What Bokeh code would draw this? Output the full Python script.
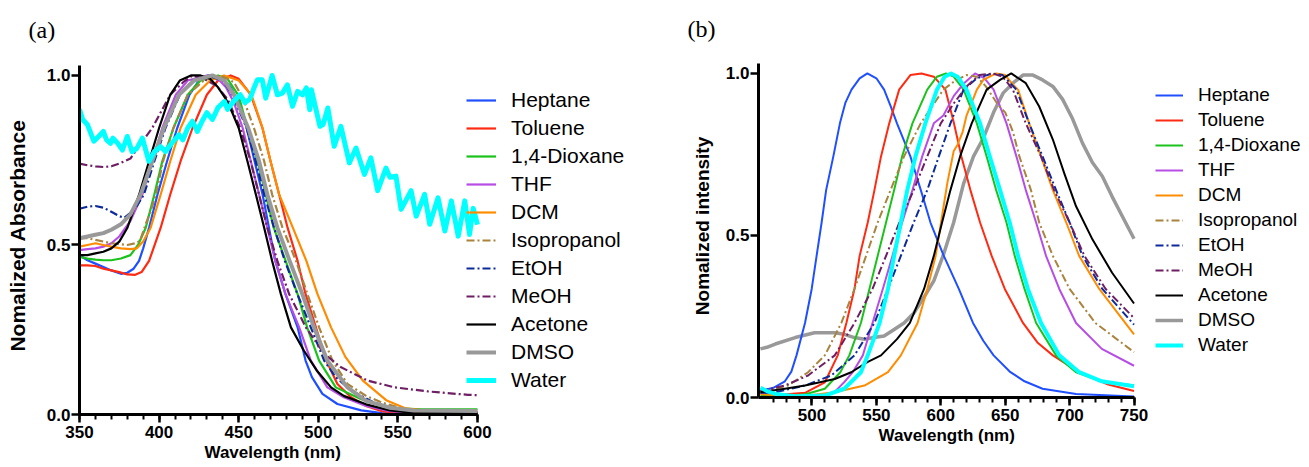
from bokeh.plotting import figure
from bokeh.models import Range1d, FixedTicker, Legend, LegendItem, PrintfTickFormatter, Title
from bokeh.layouts import row
from bokeh.embed import file_html
from bokeh.resources import INLINE

# ---------------- Panel (a): normalized absorbance ----------------
HEPTANE_ABS_WL = [350, 355, 360, 365, 370, 376, 380, 384, 387.4, 390, 393.7, 399, 405, 411.4, 419, 425, 432, 440, 445, 450, 455, 460, 465, 469, 473, 479.4, 487, 492, 496, 502.6, 512, 527, 540, 560, 600]
HEPTANE_ABS = [0.47, 0.455, 0.445, 0.435, 0.425, 0.415, 0.418, 0.43, 0.453, 0.49, 0.551, 0.649, 0.747, 0.845, 0.943, 0.985, 1.0, 0.99, 0.965, 0.92, 0.845, 0.747, 0.649, 0.551, 0.453, 0.355, 0.257, 0.159, 0.11, 0.061, 0.031, 0.012, 0.004, 0.001, 0.0]

TOLUENE_ABS_WL = [350, 355, 360, 365, 370, 375, 380, 385, 389, 393.7, 401, 407, 413.5, 421, 430, 437, 445, 450, 457.6, 464.9, 470, 475.4, 480.7, 487, 492, 498.5, 505, 512, 520.5, 530, 540, 550, 600]
TOLUENE_ABS = [0.44, 0.44, 0.438, 0.43, 0.425, 0.42, 0.413, 0.412, 0.42, 0.453, 0.551, 0.649, 0.747, 0.845, 0.943, 0.985, 1.0, 0.99, 0.943, 0.845, 0.747, 0.649, 0.551, 0.453, 0.355, 0.257, 0.159, 0.09, 0.051, 0.025, 0.01, 0.005, 0.003]

DIOXANE_ABS_WL = [350, 355, 360, 365, 370, 376, 382, 387, 391.6, 397, 402, 409, 418, 426, 437, 443, 450, 455.5, 461.8, 467, 472, 479.5, 487, 493, 500.5, 511, 527, 540, 550, 565, 600]
DIOXANE_ABS = [0.465, 0.46, 0.457, 0.455, 0.455, 0.46, 0.47, 0.502, 0.551, 0.649, 0.747, 0.845, 0.943, 0.985, 1.0, 0.99, 0.94, 0.845, 0.747, 0.649, 0.551, 0.453, 0.355, 0.257, 0.159, 0.08, 0.045, 0.025, 0.018, 0.015, 0.015]

THF_ABS_WL = [350, 355, 360, 365, 370, 375, 382, 389.5, 395.7, 402, 410.5, 418, 430, 438, 442, 447, 452.5, 457.6, 462.8, 468, 473, 479.4, 488, 495.3, 505.7, 516, 530, 545, 560, 600]
THF_ABS = [0.485, 0.488, 0.49, 0.495, 0.505, 0.525, 0.571, 0.649, 0.747, 0.845, 0.943, 0.985, 1.0, 0.985, 0.965, 0.92, 0.845, 0.747, 0.649, 0.551, 0.453, 0.355, 0.257, 0.159, 0.08, 0.051, 0.025, 0.01, 0.005, 0.004]

DCM_ABS_WL = [350, 355, 360, 365, 370, 376, 382, 386, 390, 394.7, 401, 407, 413.5, 423, 432, 440.8, 450, 458, 465, 470, 475.4, 484, 492.5, 499.5, 508, 517, 528, 543, 555, 570, 600]
DCM_ABS = [0.495, 0.5, 0.505, 0.5, 0.495, 0.49, 0.488, 0.49, 0.51, 0.551, 0.649, 0.747, 0.845, 0.943, 0.985, 1.0, 0.985, 0.943, 0.845, 0.747, 0.649, 0.551, 0.453, 0.355, 0.257, 0.17, 0.1, 0.041, 0.018, 0.01, 0.008]

ISOPROPANOL_ABS_WL = [350, 355, 360, 365, 370, 376, 380, 385, 388, 391.5, 394.7, 398, 402.5, 409, 418, 428, 438.7, 447, 453, 459.6, 466, 471, 477.5, 486, 493.2, 500.5, 508.9, 518.3, 530, 540, 555, 575, 600]
ISOPROPANOL_ABS = [0.52, 0.52, 0.515, 0.51, 0.505, 0.502, 0.5, 0.505, 0.512, 0.56, 0.6, 0.649, 0.747, 0.845, 0.943, 0.985, 1.0, 0.98, 0.93, 0.845, 0.747, 0.649, 0.551, 0.453, 0.355, 0.257, 0.159, 0.09, 0.055, 0.035, 0.015, 0.008, 0.006]

ETOH_ABS_WL = [350, 355, 360, 365, 370, 375, 378, 382, 386, 390.5, 397, 404, 413, 421, 431, 440, 446, 455, 460.7, 466, 472.2, 479, 486.9, 495.3, 503.7, 511, 520.5, 535, 550, 570, 600]
ETOH_ABS = [0.607, 0.613, 0.615, 0.61, 0.598, 0.585, 0.58, 0.595, 0.615, 0.649, 0.747, 0.845, 0.943, 0.985, 1.0, 0.985, 0.943, 0.845, 0.747, 0.649, 0.551, 0.453, 0.355, 0.257, 0.159, 0.11, 0.071, 0.035, 0.015, 0.008, 0.006]

MEOH_ABS_WL = [350, 355, 360, 365, 370, 376, 382, 388, 395.7, 407, 415.6, 421, 428, 436, 443, 451, 457.5, 468, 474.3, 481.7, 492.2, 503.7, 514, 531, 548, 569, 594, 600]
MEOH_ABS = [0.74, 0.735, 0.732, 0.73, 0.732, 0.742, 0.755, 0.796, 0.845, 0.943, 0.982, 1.0, 0.99, 0.97, 0.93, 0.845, 0.747, 0.551, 0.453, 0.355, 0.257, 0.179, 0.14, 0.1, 0.08, 0.068, 0.058, 0.057]

ACETONE_ABS_WL = [350, 355, 360, 365, 370, 375, 380, 387.5, 393.7, 400, 407, 413, 420, 426, 432, 437, 442, 446, 450, 455.5, 460.8, 466, 471, 476.5, 482.8, 491, 499, 508, 516, 530, 545, 560, 600]
ACETONE_ABS = [0.47, 0.47, 0.475, 0.48, 0.49, 0.51, 0.55, 0.649, 0.747, 0.845, 0.943, 0.985, 1.0, 1.0, 0.99, 0.965, 0.93, 0.89, 0.845, 0.747, 0.649, 0.551, 0.453, 0.355, 0.257, 0.188, 0.13, 0.08, 0.055, 0.03, 0.012, 0.005, 0.003]

DMSO_ABS_WL = [350, 355, 360, 365, 370, 376, 382, 388.4, 395.7, 403, 412.5, 422, 433.5, 441, 447, 456, 462.8, 468, 474.3, 482, 490, 497.3, 505.7, 518.3, 530, 545, 560, 600]
DMSO_ABS = [0.52, 0.525, 0.53, 0.535, 0.545, 0.561, 0.59, 0.649, 0.747, 0.845, 0.943, 0.985, 1.0, 0.985, 0.943, 0.845, 0.747, 0.649, 0.551, 0.453, 0.355, 0.257, 0.159, 0.08, 0.04, 0.02, 0.012, 0.01]

WATER_ABS_WL = [350, 352, 355, 359, 362, 365, 367, 369.5, 371, 374, 377, 380, 383, 386, 389.5, 393.6, 397, 401, 404, 408, 412.5, 415, 418, 421, 424, 427, 430, 433.5, 437, 441, 443, 447, 451, 454, 457, 459.6, 461.7, 464.8, 467, 471, 474.3, 477.4, 480.6, 483.8, 487, 490, 492.5, 494.6, 495.7, 501, 503, 506, 510, 514.2, 519.5, 523.7, 529, 533, 537.3, 542.5, 545, 548.8, 552, 558.3, 561.5, 566.8, 570, 575.2, 579.5, 583.6, 587.9, 592, 595, 597.3, 600]
WATER_ABS = [0.9, 0.87, 0.855, 0.806, 0.82, 0.835, 0.81, 0.8, 0.815, 0.8, 0.78, 0.82, 0.775, 0.785, 0.815, 0.747, 0.775, 0.79, 0.776, 0.8, 0.825, 0.81, 0.845, 0.865, 0.835, 0.865, 0.89, 0.87, 0.905, 0.923, 0.9, 0.925, 0.943, 0.92, 0.93, 0.963, 0.987, 0.987, 0.933, 1.0, 0.943, 0.948, 0.972, 0.909, 0.953, 0.943, 0.963, 0.899, 0.958, 0.85, 0.855, 0.904, 0.791, 0.85, 0.742, 0.786, 0.708, 0.757, 0.66, 0.727, 0.7, 0.703, 0.605, 0.66, 0.585, 0.649, 0.561, 0.639, 0.541, 0.63, 0.526, 0.63, 0.531, 0.608, 0.56]

# ---------------- Panel (b): normalized emission ----------------
HEPTANE_EM_WL = [460, 470, 479, 484, 488, 494.6, 499.8, 503.6, 507.5, 511, 516.6, 521.7, 526, 530.7, 537, 543, 550, 556, 561, 566, 576.4, 584.5, 592, 602, 614, 625, 633, 641, 653.5, 665, 679, 705, 750]
HEPTANE_EM = [0.02, 0.03, 0.05, 0.08, 0.13, 0.23, 0.335, 0.437, 0.54, 0.64, 0.744, 0.846, 0.91, 0.95, 0.985, 1.0, 0.985, 0.95, 0.9, 0.846, 0.744, 0.64, 0.54, 0.44, 0.335, 0.23, 0.175, 0.13, 0.08, 0.05, 0.027, 0.011, 0.003]

TOLUENE_EM_WL = [460, 480, 495, 510, 520, 526.7, 533, 537, 543.3, 548.5, 553.6, 560, 567.7, 576.4, 585, 594.6, 603.6, 610, 616, 623, 630.5, 639.5, 649.7, 663.8, 675, 687, 707.4, 730, 750]
TOLUENE_EM = [0.012, 0.01, 0.015, 0.047, 0.13, 0.23, 0.335, 0.437, 0.54, 0.64, 0.744, 0.846, 0.95, 0.995, 1.0, 0.99, 0.95, 0.85, 0.744, 0.64, 0.54, 0.437, 0.335, 0.23, 0.17, 0.13, 0.078, 0.04, 0.02]

DIOXANE_EM_WL = [460, 480, 495, 510, 522, 529, 538, 544.6, 551, 557.5, 563.8, 570, 578, 589.5, 597, 604, 610, 617.7, 628, 635.6, 643, 651, 657.4, 665, 674, 689.5, 705, 725, 750]
DIOXANE_EM = [0.005, 0.005, 0.01, 0.027, 0.078, 0.13, 0.23, 0.335, 0.437, 0.54, 0.64, 0.744, 0.846, 0.95, 0.99, 1.0, 0.99, 0.95, 0.846, 0.744, 0.64, 0.54, 0.437, 0.335, 0.23, 0.13, 0.078, 0.05, 0.037]

THF_EM_WL = [460, 480, 500, 517, 525, 532, 539.5, 547, 555, 562.5, 570, 578, 585.6, 594.6, 602, 610, 618, 626.6, 634, 641, 651, 658.7, 666, 674, 681.7, 692, 705, 725, 750]
THF_EM = [0.015, 0.005, 0.005, 0.015, 0.047, 0.08, 0.13, 0.23, 0.335, 0.437, 0.54, 0.64, 0.744, 0.846, 0.87, 0.93, 0.97, 1.0, 0.985, 0.95, 0.846, 0.744, 0.64, 0.54, 0.437, 0.335, 0.23, 0.15, 0.098]

DCM_EM_WL = [460, 480, 500, 517.7, 540.8, 559, 569, 582, 589.5, 596, 601, 605, 610, 613, 617, 620, 628, 633, 643, 650, 655, 660, 668.6, 677.8, 687, 697.4, 707.4, 723, 750]
DCM_EM = [0.01, 0.005, 0.008, 0.016, 0.037, 0.078, 0.13, 0.23, 0.335, 0.437, 0.56, 0.66, 0.76, 0.78, 0.82, 0.87, 0.95, 0.98, 1.0, 0.995, 0.97, 0.95, 0.846, 0.744, 0.64, 0.54, 0.437, 0.335, 0.195]

ISOPROPANOL_EM_WL = [460, 470, 481.5, 497, 510, 522.8, 533, 542, 551, 561, 571.5, 584.4, 602, 612, 620, 628, 635, 645, 650, 656, 661, 670, 676.4, 687, 700, 720, 750]
ISOPROPANOL_EM = [0.02, 0.025, 0.037, 0.078, 0.13, 0.23, 0.335, 0.437, 0.54, 0.64, 0.744, 0.846, 0.95, 0.98, 0.995, 0.99, 0.96, 0.9, 0.88, 0.82, 0.744, 0.64, 0.54, 0.437, 0.335, 0.23, 0.14]

ETOH_EM_WL = [460, 470, 494.6, 515, 533, 548.5, 559, 569, 579, 589.5, 598.5, 607.5, 617.7, 628, 640, 648, 658.7, 668.6, 679, 689.5, 700, 710, 725.4, 750]
ETOH_EM = [0.015, 0.015, 0.037, 0.068, 0.13, 0.23, 0.335, 0.437, 0.54, 0.64, 0.744, 0.846, 0.95, 0.985, 1.0, 0.995, 0.95, 0.846, 0.744, 0.64, 0.54, 0.437, 0.335, 0.225]

MEOH_EM_WL = [460, 479, 497, 517.7, 533, 547, 557.5, 567.8, 579, 589.5, 600, 610, 620, 630, 640, 648, 656, 666, 677.8, 688, 700, 711.5, 728, 750]
MEOH_EM = [0.02, 0.037, 0.068, 0.13, 0.23, 0.335, 0.437, 0.54, 0.64, 0.744, 0.846, 0.907, 0.96, 0.995, 1.0, 0.99, 0.95, 0.846, 0.744, 0.64, 0.54, 0.437, 0.335, 0.245]

ACETONE_EM_WL = [460, 479, 494.6, 517.7, 530.5, 543, 553.6, 566, 576, 587, 594.6, 601, 607.5, 615, 624, 635.6, 646, 654.7, 666, 676.4, 687, 696, 705, 717.7, 733, 750]
ACETONE_EM = [0.016, 0.027, 0.037, 0.057, 0.078, 0.109, 0.13, 0.18, 0.23, 0.335, 0.437, 0.54, 0.64, 0.744, 0.846, 0.95, 0.98, 1.0, 0.97, 0.898, 0.796, 0.69, 0.59, 0.488, 0.385, 0.29]

DMSO_EM_WL = [460, 465, 471.5, 487, 502, 517.7, 525, 533, 540.8, 548, 556, 563.8, 571.5, 579, 587, 594.6, 602, 610, 617.7, 625.4, 633, 641, 648.5, 656, 663.8, 671.5, 679, 687, 694.6, 702.3, 710, 717.7, 725.4, 733, 740.8, 750]
DMSO_EM = [0.15, 0.155, 0.165, 0.185, 0.2, 0.2, 0.195, 0.185, 0.18, 0.185, 0.19, 0.21, 0.23, 0.26, 0.31, 0.36, 0.44, 0.54, 0.66, 0.744, 0.8, 0.88, 0.94, 0.97, 0.995, 0.995, 0.98, 0.96, 0.92, 0.86, 0.785, 0.725, 0.683, 0.62, 0.56, 0.49]

WATER_EM_WL = [460, 465, 471.5, 487, 510, 525, 531, 538, 543.3, 552.5, 559, 563.8, 569, 574, 580.4, 588, 597, 603, 608, 613, 620, 630.5, 638, 646, 653.5, 660, 667.6, 677.8, 692, 707.4, 725, 750]
WATER_EM = [0.03, 0.02, 0.011, 0.004, 0.006, 0.027, 0.05, 0.078, 0.13, 0.23, 0.335, 0.437, 0.54, 0.64, 0.744, 0.846, 0.95, 0.99, 1.0, 0.99, 0.95, 0.846, 0.744, 0.64, 0.54, 0.437, 0.335, 0.23, 0.13, 0.078, 0.05, 0.035]

SOLVENTS = ["Heptane", "Toluene", "1,4-Dioxane", "THF", "DCM", "Isopropanol",
            "EtOH", "MeOH", "Acetone", "DMSO", "Water"]

ABS_SERIES = [(HEPTANE_ABS_WL, HEPTANE_ABS), (TOLUENE_ABS_WL, TOLUENE_ABS),
              (DIOXANE_ABS_WL, DIOXANE_ABS), (THF_ABS_WL, THF_ABS), (DCM_ABS_WL, DCM_ABS),
              (ISOPROPANOL_ABS_WL, ISOPROPANOL_ABS), (ETOH_ABS_WL, ETOH_ABS),
              (MEOH_ABS_WL, MEOH_ABS), (ACETONE_ABS_WL, ACETONE_ABS),
              (DMSO_ABS_WL, DMSO_ABS), (WATER_ABS_WL, WATER_ABS)]
EM_SERIES = [(HEPTANE_EM_WL, HEPTANE_EM), (TOLUENE_EM_WL, TOLUENE_EM),
             (DIOXANE_EM_WL, DIOXANE_EM), (THF_EM_WL, THF_EM), (DCM_EM_WL, DCM_EM),
             (ISOPROPANOL_EM_WL, ISOPROPANOL_EM), (ETOH_EM_WL, ETOH_EM),
             (MEOH_EM_WL, MEOH_EM), (ACETONE_EM_WL, ACETONE_EM),
             (DMSO_EM_WL, DMSO_EM), (WATER_EM_WL, WATER_EM)]

ABS_X_TICKS = [350, 400, 450, 500, 550, 600]
ABS_X_MINOR = list(range(350, 601, 10))
EM_X_TICKS = [500, 550, 600, 650, 700, 750]
EM_X_MINOR = list(range(470, 751, 10))
Y_TICKS = [0.0, 0.5, 1.0]

# ---------------- styles ----------------
COLORS = ["#1f4fff", "#ff2a12", "#1cc21c", "#b64ee6", "#ff8c00", "#a8843f",
          "#0c2a9a", "#6e1f63", "#000000", "#999999", "#00ffff"]
DASHDOT = "8 3 2 3"
DASHES = ["solid", "solid", "solid", "solid", "solid", DASHDOT, DASHDOT, DASHDOT,
          "solid", "solid", "solid"]
WIDTHS_A = [2.2] * 9 + [4.0, 5.0]
WIDTHS_B = [2.0] * 9 + [3.5, 4.0]

FONT = "Liberation Sans"


def style_axes(p, x_ticks, x_minor, x_bounds, y_label, y_label_size, y_label_standoff):
    p.xaxis.ticker = FixedTicker(ticks=x_ticks, minor_ticks=x_minor)
    p.xaxis.bounds = x_bounds
    p.yaxis.ticker = FixedTicker(ticks=Y_TICKS, minor_ticks=[])
    p.yaxis.bounds = (0, 1.03)
    p.yaxis.formatter = PrintfTickFormatter(format="%.1f")
    p.yaxis.axis_label = y_label
    for ax in (p.xaxis[0], p.yaxis[0]):
        ax.axis_line_width = 3
        ax.axis_line_color = "black"
        ax.major_tick_line_width = 2.5
        ax.minor_tick_line_width = 2
        ax.major_tick_out = 8
        ax.major_tick_in = 0
        ax.minor_tick_out = 5
        ax.minor_tick_in = 0
        ax.major_label_text_font = FONT
        ax.major_label_text_font_size = "17px"
        ax.major_label_text_font_style = "bold"
        ax.major_label_text_color = "black"
        ax.axis_label_text_font = FONT
        ax.axis_label_text_font_style = "bold"
        ax.axis_label_text_color = "black"
    p.xaxis.major_label_standoff = 3
    p.yaxis.major_label_standoff = 1
    p.yaxis.axis_label_text_font_size = y_label_size
    p.yaxis.axis_label_standoff = y_label_standoff
    p.grid.visible = False
    p.outline_line_color = None


def add_x_label(p, text, size, offset, standoff):
    t = Title(text=text, align="left", offset=offset, standoff=standoff,
              vertical_align="top", text_font=FONT, text_font_size=size,
              text_font_style="bold", text_color="black")
    p.add_layout(t, "below")


def add_panel_tag(p, text, offset, standoff):
    p.title.text = text
    p.title.align = "left"
    p.title.offset = offset
    p.title.standoff = standoff
    p.title.text_font = "Liberation Serif"
    p.title.text_font_size = "24px"
    p.title.text_font_style = "normal"
    p.title.text_color = "black"


# ---------------- figure (a) ----------------
# frame extends right (legend) and up (panel tag); axes are bounded to the data box
PX_PER_NM_A = 398 / 250.0
PX_PER_UNIT_A = 340.0
pa = figure(width=688, height=467,
            x_range=Range1d(350, 350 + 606 / PX_PER_NM_A),
            y_range=Range1d(0, 359 / PX_PER_UNIT_A),
            output_backend="svg", toolbar_location=None, frame_align=False,
            min_border_left=79, min_border_right=3, min_border_top=55, min_border_bottom=53)
style_axes(pa, ABS_X_TICKS, ABS_X_MINOR, (350, 600), "Nomalized Absorbance", "21px", 15)
add_x_label(pa, "Wavelength (nm)", "17px", 125, 4)
add_panel_tag(pa, "(a)", -51, 28)

rend_a = {}
for i, name in enumerate(SOLVENTS):
    wl, val = ABS_SERIES[i]
    rend_a[name] = pa.line(wl, val, line_color=COLORS[i], line_width=WIDTHS_A[i],
                           line_dash=DASHES[i], line_join="round")

leg_a = Legend(items=[LegendItem(label=n, renderers=[rend_a[n]]) for n in SOLVENTS],
               location=(387, 20), orientation="vertical",
               glyph_width=30, glyph_height=20, label_height=28, spacing=0,
               padding=0, margin=0, label_standoff=15,
               label_text_font=FONT, label_text_font_size="21px", label_text_color="black",
               border_line_color=None, background_fill_alpha=0)
pa.add_layout(leg_a)

# ---------------- figure (b) ----------------
PX_PER_NM_B = 1.3
PX_PER_UNIT_B = 325.0
pb = figure(width=621, height=467,
            x_range=Range1d(458.5, 458.5 + 552 / PX_PER_NM_B),
            y_range=Range1d(0, 344 / PX_PER_UNIT_B),
            output_backend="svg", toolbar_location=None, frame_align=False,
            min_border_left=65, min_border_right=4, min_border_top=53, min_border_bottom=70)
style_axes(pb, EM_X_TICKS, EM_X_MINOR, (458.5, 750), "Nomalized intensity", "19px", 10)
add_x_label(pb, "Wavelength (nm)", "17px", 120, 4)
add_panel_tag(pb, "(b)", -71, 26)

rend_b = {}
order_b = [9, 0, 1, 2, 3, 4, 5, 6, 7, 8, 10]
for i in order_b:
    name = SOLVENTS[i]
    wl, val = EM_SERIES[i]
    rend_b[name] = pb.line(wl, val, line_color=COLORS[i], line_width=WIDTHS_B[i],
                           line_dash=DASHES[i], line_join="round")

leg_b = Legend(items=[LegendItem(label=n, renderers=[rend_b[n]]) for n in SOLVENTS],
               location=(397, 40), orientation="vertical",
               glyph_width=28, glyph_height=20, label_height=25, spacing=0,
               padding=0, margin=0, label_standoff=15,
               label_text_font=FONT, label_text_font_size="19px", label_text_color="black",
               border_line_color=None, background_fill_alpha=0)
pb.add_layout(leg_b)

layout = row(pa, pb)
open("out.html", "w").write(file_html(layout, INLINE))
